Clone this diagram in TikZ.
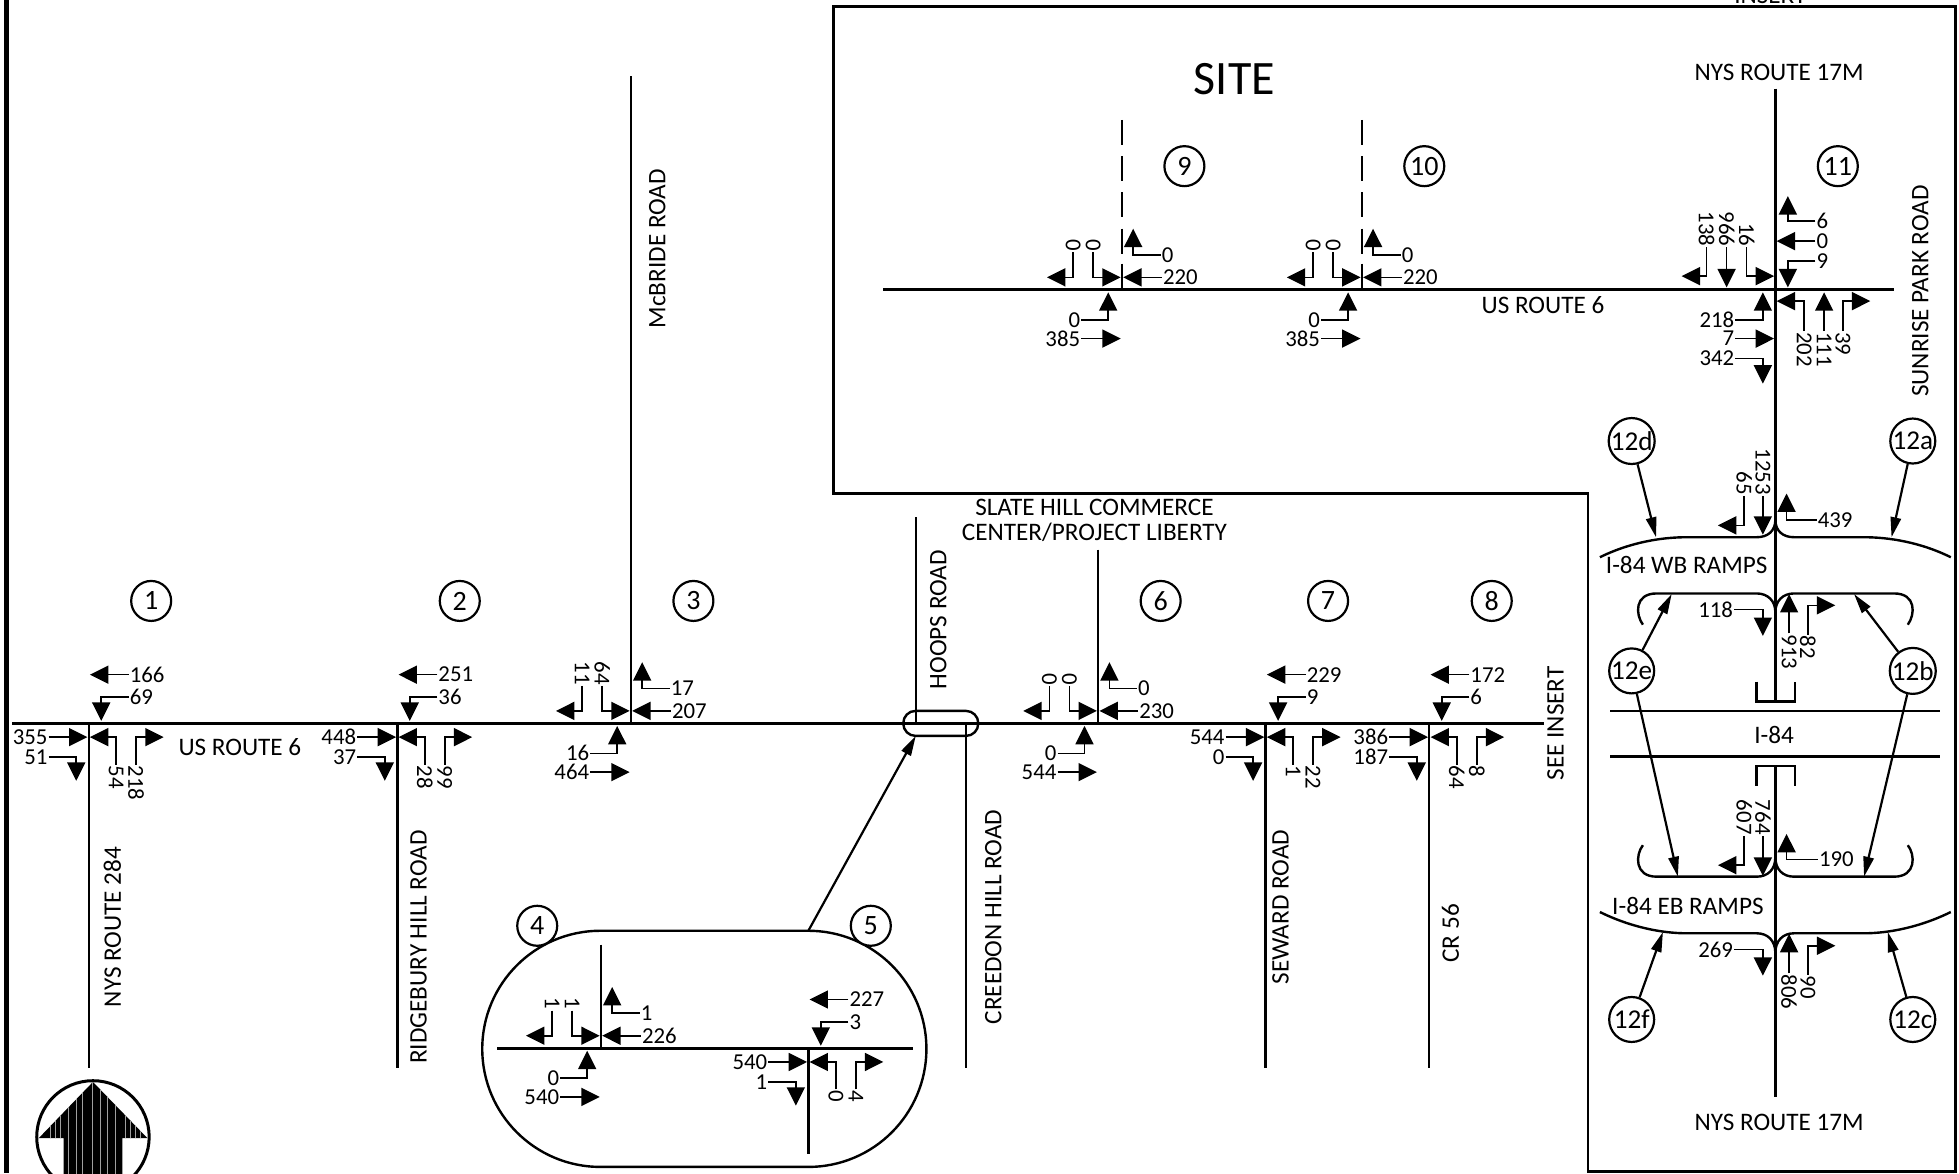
\documentclass[tikz,border=0pt]{standalone}
\usepackage{fontspec}
\setmainfont{Carlito}
\usetikzlibrary{arrows.meta}
\tikzset{
  x=0.625pt,y=-0.625pt,
  road/.style={line width=1.5pt,line cap=butt},
  thin road/.style={line width=1.2pt},
  frame/.style={line width=1.4pt,line join=miter},
  leader/.style={line width=0.8pt,-{Triangle[length=9.2pt,width=9pt]}},
  call/.style={line width=1.1pt,-{Triangle[length=10pt,width=5.2pt]}},
  num/.style={font=\fontsize{11.4}{11.4}\selectfont,inner sep=0.4pt},
  rnum/.style={num,rotate=-90},
  lab/.style={font=\fontsize{12.6}{12.6}\selectfont,inner sep=0pt,align=center},
  ulab/.style={lab,rotate=90},
  ring/.style={circle,draw,fill=white,line width=1.1pt,inner sep=0pt,minimum size=20pt,font=\fontsize{14}{14}\selectfont},
  bigring/.style={ring,minimum size=22.5pt,font=\fontsize{13.6}{13.6}\selectfont},
}
% pattern A: four-leg crossing
\newcommand\crossing[9]{%
  \begin{scope}[shift={(#2,#3)}]
    \node[num,anchor=west] (#1a) at (32,-39) {#4};
    \coordinate (#1at) at (1,-39);
    \draw[leader] (#1a) -- (#1at);
    \node[num,anchor=west] (#1b) at (32,-21) {#5};
    \coordinate (#1bc) at (10,-21);
    \coordinate (#1bt) at (10,-2);
    \draw[leader] (#1b) -- (#1bc) -- (#1bt);
    \node[num,anchor=east] (#1c) at (-32,11) {#6};
    \coordinate (#1ct) at (-1,11);
    \draw[leader] (#1c) -- (#1ct);
    \node[num,anchor=east] (#1d) at (-32,27) {#7};
    \coordinate (#1dc) at (-10,27);
    \coordinate (#1dt) at (-10,46);
    \draw[leader] (#1d) -- (#1dc) -- (#1dt);
    \node[rnum,anchor=west] (#1e) at (22,33) {#8};
    \coordinate (#1ec) at (22,11);
    \coordinate (#1et) at (1,11);
    \draw[leader] (#1e) -- (#1ec) -- (#1et);
    \node[rnum,anchor=west] (#1f) at (38,33) {#9};
    \coordinate (#1fc) at (38,11);
    \coordinate (#1ft) at (60,11);
    \draw[leader] (#1f) -- (#1fc) -- (#1ft);
  \end{scope}}
% pattern B: tee
\newcommand\tee[9]{%
  \begin{scope}[shift={(#2,#3)}]
    \node[num,anchor=west] (#1a) at (32,-10) {#4};
    \coordinate (#1at) at (1,-10);
    \draw[leader] (#1a) -- (#1at);
    \node[num,anchor=west] (#1b) at (31,-28) {#5};
    \coordinate (#1bc) at (9,-28);
    \coordinate (#1bt) at (9,-49);
    \draw[leader] (#1b) -- (#1bc) -- (#1bt);
    \node[rnum,anchor=east] (#1c) at (-39,-30) {#6};
    \coordinate (#1cc) at (-39,-10);
    \coordinate (#1ct) at (-60,-10);
    \draw[leader] (#1c) -- (#1cc) -- (#1ct);
    \node[rnum,anchor=east] (#1d) at (-23,-30) {#7};
    \coordinate (#1dc) at (-23,-10);
    \coordinate (#1dt) at (-1,-10);
    \draw[leader] (#1d) -- (#1dc) -- (#1dt);
    \node[num,anchor=east] (#1e) at (-32.5,24) {#8};
    \coordinate (#1ec) at (-11,24);
    \coordinate (#1et) at (-11,2);
    \draw[leader] (#1e) -- (#1ec) -- (#1et);
    \node[num,anchor=east] (#1f) at (-32.5,39) {#9};
    \coordinate (#1ft) at (-1,39);
    \draw[leader] (#1f) -- (#1ft);
  \end{scope}}
\begin{document}
\begin{tikzpicture}
\path[use as bounding box] (0,0) rectangle (1568,939);
\clip (0,0) rectangle (1568,939);
% outer lines
\draw[line width=2.4pt] (5,0) -- (5,939);
\draw[frame] (667,395) -- (667,5) -- (1565,5) -- (1565,937.5) -- (1271,937.5) -- (1271,395) -- cycle;
% main road and side roads
\draw[road] (10,579) -- (1236,579);
\draw[thin road] (71,579) -- (71,855);
\draw[thin road] (318,579) -- (318,855);
\draw[thin road] (505,61) -- (505,579);
\draw[thin road] (733,414) -- (733,579);
\draw[thin road] (773,579) -- (773,855);
\draw[thin road] (879,440) -- (879,579);
\draw[thin road] (1013,579) -- (1013,855);
\draw[thin road] (1144,579) -- (1144,855);
% hoops oval and inset
\draw[thin road,rounded corners=6.1pt] (723,569) rectangle (783,589);
\draw[thin road] (480.5,745) -- (647,745) arc[start angle=-90,end angle=90,radius=94.5] -- (480.5,934) arc[start angle=90,end angle=270,radius=94.5];
\coordinate (oval) at (733,589);
\coordinate (insettop) at (647,745);
\draw[call] (insettop) -- (oval);
\draw[road] (398,839) -- (731,839);
\draw[thin road] (481,756) -- (481,839);
\draw[thin road] (647,839) -- (647,924);
% site road
\draw[road] (707,232) -- (1516,232);
\draw[thin road] (1090,96) -- ++(0,20) ++(0,9) -- ++(0,20) ++(0,9) -- ++(0,20) ++(0,9) -- ++(0,20) ++(0,8) -- (1090,232);
\draw[thin road] (898,96) -- ++(0,20) ++(0,9) -- ++(0,20) ++(0,9) -- ++(0,20) ++(0,9) -- ++(0,20) ++(0,8) -- (898,232);
% 17M
\draw[thin road] (1421,71) -- (1421,561.5);
\draw[thin road] (1421,613) -- (1421,878);
\draw[thin road] (1406,545.5) -- (1406,561.5) -- (1436.7,561.5) -- (1436.7,545.5);
\draw[thin road] (1406,629) -- (1406,613) -- (1436.7,613) -- (1436.7,629);
\draw[thin road] (1289,569) -- (1553,569);
\draw[thin road] (1289,605.5) -- (1553,605.5);
% ramps
\draw[thin road] (1280.6,446) .. controls (1305,434) and (1330,430) .. (1350,430) -- (1406,430) .. controls (1415,430) and (1421,425) .. (1421,416);
\draw[thin road] (1561.4,446) .. controls (1537,434) and (1512,430) .. (1492,430) -- (1436,430) .. controls (1427,430) and (1421,425) .. (1421,416);
\draw[thin road] (1315,500) .. controls (1309,492) and (1308,475) .. (1326,475) -- (1406,475) .. controls (1415,475) and (1421,481) .. (1421,490);
\draw[thin road] (1527,500) .. controls (1533,492) and (1534,475) .. (1516,475) -- (1436,475) .. controls (1427,475) and (1421,481) .. (1421,490);
\draw[thin road] (1315,676.5) .. controls (1309,684) and (1308,701.7) .. (1326,701.7) -- (1406,701.7) .. controls (1415,701.7) and (1421,696) .. (1421,686);
\draw[thin road] (1527,676.5) .. controls (1533,684) and (1534,701.7) .. (1516,701.7) -- (1436,701.7) .. controls (1427,701.7) and (1421,696) .. (1421,686);
\draw[thin road] (1280.6,730) .. controls (1305,742) and (1330,747) .. (1350,747) -- (1406,747) .. controls (1415,747) and (1421,753) .. (1421,762.7);
\draw[thin road] (1561.4,730) .. controls (1537,742) and (1512,747) .. (1492,747) -- (1436,747) .. controls (1427,747) and (1421,753) .. (1421,762.7);
% labelled rings
\node[ring] (c1) at (121,481) {1};
\node[ring] (c2) at (368,481) {2};
\node[ring] (c3) at (555,481) {3};
\node[ring] (c4) at (430,741) {4};
\node[ring] (c5) at (697,741) {5};
\node[ring] (c6) at (929,481) {6};
\node[ring] (c7) at (1063,481) {7};
\node[ring] (c8) at (1194,481) {8};
\node[ring] (c9) at (948,133) {9};
\node[ring] (c10) at (1140,133) {10};
\node[ring] (c11) at (1471,133) {11};
\node[bigring] (c12d) at (1306,353) {12d};
\node[bigring] (c12a) at (1531,353) {12a};
\node[bigring] (c12e) at (1306,537) {12e};
\node[bigring] (c12b) at (1531,537) {12b};
\node[bigring] (c12f) at (1306,816) {12f};
\node[bigring] (c12c) at (1531,816) {12c};
\coordinate (t12d) at (1325.5,430);
\coordinate (t12a) at (1514,430);
\coordinate (t12eu) at (1338,475.5);
\coordinate (t12bu) at (1484,475.5);
\coordinate (t12el) at (1343,701.7);
\coordinate (t12bl) at (1492,701.7);
\coordinate (t12f) at (1331,746);
\coordinate (t12c) at (1511,746);
\draw[call] (c12d) -- (t12d);
\draw[call] (c12a) -- (t12a);
\draw[call] (c12e) -- (t12eu);
\draw[call] (c12b) -- (t12bu);
\draw[call] (c12e) -- (t12el);
\draw[call] (c12b) -- (t12bl);
\draw[call] (c12f) -- (t12f);
\draw[call] (c12c) -- (t12c);
% volumes
\crossing{A}{71}{579}{166}{69}{355}{51}{54}{218}
\crossing{B}{318}{579}{251}{36}{448}{37}{28}{99}
\tee{C}{505}{579}{207}{17}{11}{64}{16}{464}
\tee{D}{481}{839}{226}{1}{1}{1}{0}{540}
\crossing{E}{647}{839}{227}{3}{540}{1}{0}{4}
\tee{F}{879}{579}{230}{0}{0}{0}{0}{544}
\crossing{G}{1013}{579}{229}{9}{544}{0}{1}{22}
\crossing{H}{1144}{579}{172}{6}{386}{187}{64}{8}
\tee{I}{898}{232}{220}{0}{0}{0}{0}{385}
\tee{J}{1090}{232}{220}{0}{0}{0}{0}{385}
% intersection 11
\node[num,anchor=west] (k6) at (1453,177) {6};
\coordinate (k6c) at (1431,177); \coordinate (k6t) at (1431,157);
\draw[leader] (k6) -- (k6c) -- (k6t);
\node[num,anchor=west] (k0) at (1453,193) {0};
\coordinate (k0t) at (1422,193);
\draw[leader] (k0) -- (k0t);
\node[num,anchor=west] (k9) at (1453,209) {9};
\coordinate (k9c) at (1431,209); \coordinate (k9t) at (1431,230);
\draw[leader] (k9) -- (k9c) -- (k9t);
\node[rnum,anchor=east] (k138) at (1366,198) {138};
\coordinate (k138c) at (1366,221); \coordinate (k138t) at (1346,221);
\draw[leader] (k138) -- (k138c) -- (k138t);
\node[rnum,anchor=east] (k966) at (1382,198) {966};
\coordinate (k966t) at (1382,230);
\draw[leader] (k966) -- (k966t);
\node[rnum,anchor=east] (k16) at (1398,198) {16};
\coordinate (k16c) at (1398,221); \coordinate (k16t) at (1420,221);
\draw[leader] (k16) -- (k16c) -- (k16t);
\node[num,anchor=east] (k218) at (1389,256) {218};
\coordinate (k218c) at (1411,256); \coordinate (k218t) at (1411,234);
\draw[leader] (k218) -- (k218c) -- (k218t);
\node[num,anchor=east] (k7) at (1389,271) {7};
\coordinate (k7t) at (1420,271);
\draw[leader] (k7) -- (k7t);
\node[num,anchor=east] (k342) at (1389,287) {342};
\coordinate (k342c) at (1411,287); \coordinate (k342t) at (1411,307);
\draw[leader] (k342) -- (k342c) -- (k342t);
\node[rnum,anchor=west] (k202) at (1444,265) {202};
\coordinate (k202c) at (1444,241); \coordinate (k202t) at (1422,241);
\draw[leader] (k202) -- (k202c) -- (k202t);
\node[rnum,anchor=west] (k111) at (1460,265) {111};
\coordinate (k111t) at (1460,234);
\draw[leader] (k111) -- (k111t);
\node[rnum,anchor=west] (k39) at (1475,265) {39};
\coordinate (k39c) at (1475,241); \coordinate (k39t) at (1497,241);
\draw[leader] (k39) -- (k39c) -- (k39t);
% ramp volumes
\node[rnum,anchor=east] (m1253) at (1411,397) {1253};
\coordinate (m1253t) at (1411,428);
\draw[leader] (m1253) -- (m1253t);
\node[rnum,anchor=east] (m65) at (1396,397) {65};
\coordinate (m65c) at (1396,420.5); \coordinate (m65t) at (1375,420.5);
\draw[leader] (m65) -- (m65c) -- (m65t);
\node[num,anchor=west] (m439) at (1454,416) {439};
\coordinate (m439c) at (1430,416); \coordinate (m439t) at (1430,395);
\draw[leader] (m439) -- (m439c) -- (m439t);
\node[num,anchor=east] (m118) at (1388,488) {118};
\coordinate (m118c) at (1411,488); \coordinate (m118t) at (1411,509);
\draw[leader] (m118) -- (m118c) -- (m118t);
\node[rnum,anchor=west] (m913) at (1432,507) {913};
\coordinate (m913t) at (1432,475.5);
\draw[leader] (m913) -- (m913t);
\node[rnum,anchor=west] (m82) at (1447,508) {82};
\coordinate (m82c) at (1447,484.5); \coordinate (m82t) at (1469,484.5);
\draw[leader] (m82) -- (m82c) -- (m82t);
\node[rnum,anchor=east] (m764) at (1411,669) {764};
\coordinate (m764t) at (1411,701);
\draw[leader] (m764) -- (m764t);
\node[rnum,anchor=east] (m607) at (1396,669) {607};
\coordinate (m607c) at (1396,692.5); \coordinate (m607t) at (1375,692.5);
\draw[leader] (m607) -- (m607c) -- (m607t);
\node[num,anchor=west] (m190) at (1455,688) {190};
\coordinate (m190c) at (1430,688); \coordinate (m190t) at (1430,667.5);
\draw[leader] (m190) -- (m190c) -- (m190t);
\node[num,anchor=east] (m269) at (1388,760) {269};
\coordinate (m269c) at (1411,760); \coordinate (m269t) at (1411,781);
\draw[leader] (m269) -- (m269c) -- (m269t);
\node[rnum,anchor=west] (m806) at (1432,779) {806};
\coordinate (m806t) at (1432,747.5);
\draw[leader] (m806) -- (m806t);
\node[rnum,anchor=west] (m90) at (1447,780) {90};
\coordinate (m90c) at (1447,757); \coordinate (m90t) at (1469,757);
\draw[leader] (m90) -- (m90c) -- (m90t);
% names
\node[font=\fontsize{24}{24}\selectfont,inner sep=0pt] (site) at (988,63) {SITE};
\node[lab] (n17a) at (1424,58) {NYS ROUTE 17M};
\node[lab] (n17b) at (1424,898) {NYS ROUTE 17M};
\node[ulab] (nsun) at (1537,233) {SUNRISE PARK ROAD};
\node[lab] (nus2) at (1235,244) {US ROUTE 6};
\node[lab] (nus1) at (192,598) {US ROUTE 6};
\node[ulab] (nmcb) at (526,199) {McBRIDE ROAD};
\node[ulab] (nhoops) at (751,496) {HOOPS ROAD};
\node[lab] (nslate) at (876,416.5) {SLATE HILL COMMERCE\\[0.4pt]CENTER/PROJECT LIBERTY};
\node[ulab] (ncree) at (795,734) {CREEDON HILL ROAD};
\node[ulab] (nsew) at (1025,726) {SEWARD ROAD};
\node[ulab] (ncr) at (1161,747) {CR 56};
\node[ulab] (n284) at (90,742) {NYS ROUTE 284};
\node[ulab] (nrid) at (335,758) {RIDGEBURY HILL ROAD};
\node[ulab] (nsee) at (1245,579) {SEE INSERT};
\node[lab] (nwb) at (1350,452) {I-84 WB RAMPS};
\node[lab] (neb) at (1351,725) {I-84 EB RAMPS};
\node[lab] (ni84) at (1420,588) {I-84};
\node[lab,anchor=base] (nins) at (1417,3) {INSERT};
% north arrow
\draw[line width=1.5pt] (74.4,910) circle[radius=45];
\begin{scope}
  \clip (74.4,866) -- (118,911) -- (98,911) -- (98,945) -- (51,945) -- (51,911) -- (31,911) -- cycle;
  \fill (20,860) rectangle (130,945);
  \foreach \sx in {40,44,48,55,61,66,74,80,86,92,100,104,108,112}
    \draw[gray!75,line width=0.35pt] (\sx,860) -- (\sx,945);
\end{scope}
\end{tikzpicture}
\end{document}
